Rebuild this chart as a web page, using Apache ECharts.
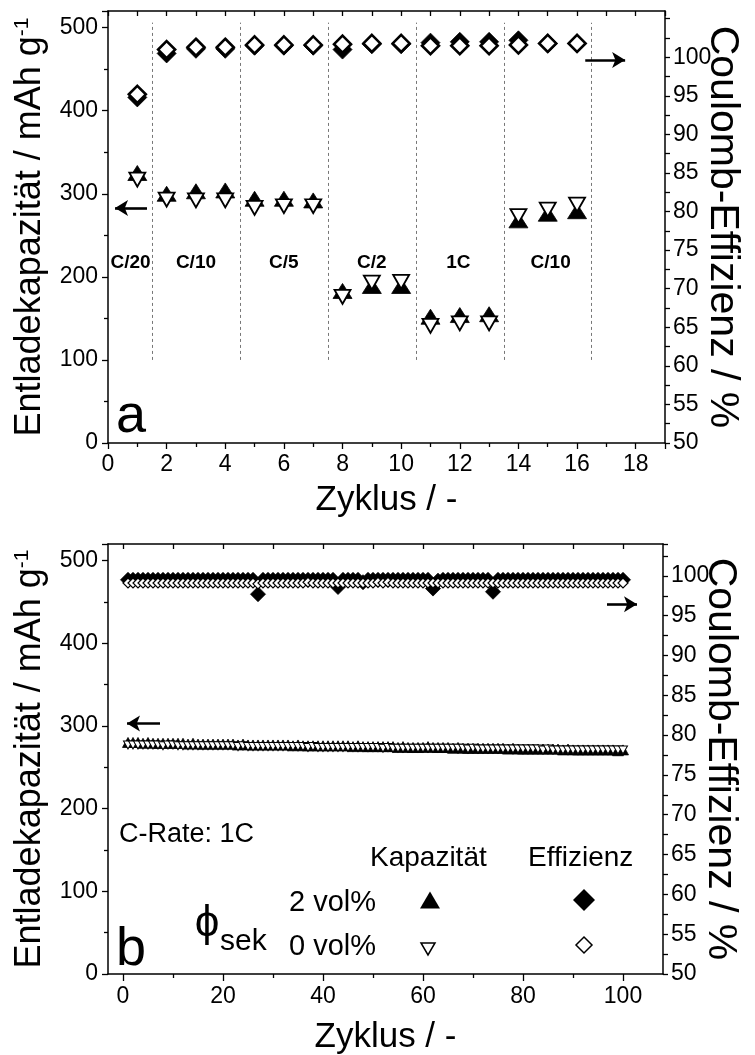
<!DOCTYPE html>
<html>
<head>
<meta charset="utf-8">
<script src="https://cdn.jsdelivr.net/npm/echarts@6/dist/echarts.min.js"></script>
<style>
html,body{margin:0;padding:0;background:#fff}
#chart{width:755px;height:1055px}
</style>
</head>
<body>
<div id="chart"></div>
<script>
// ---- Panel a: rate test (cycles 1-16) ----
const cyclesA = [1, 2, 3, 4, 5, 6, 7, 8, 9, 10, 11, 12, 13, 14, 15, 16];
const capacity2A = [325, 300, 303, 304, 294, 294, 292, 183, 189, 189, 152, 154, 155, 268, 276, 279];
const capacity0A = [317, 293, 292, 292, 283, 285, 285, 176, 193, 194, 141, 144, 144, 273, 281, 287];
const efficiency2A = [94.8, 100.5, 101.1, 101.1, 101.5, 101.5, 101.5, 101.0, 101.7, 101.7, 101.9, 102.0, 102.0, 102.2, 101.8, 101.8];
const efficiency0A = [95.2, 101.0, 101.3, 101.3, 101.6, 101.6, 101.6, 101.7, 101.8, 101.8, 101.5, 101.5, 101.5, 101.6, 101.8, 101.8];
const rateNames = ['C/20', 'C/10', 'C/5', 'C/2', '1C', 'C/10'];
const rateCenters = [0.77, 3.0, 6.0, 9.0, 11.95, 15.1];
const rateBounds = [1.5, 4.5, 7.5, 10.5, 13.5, 16.5];
const effLabelsA = [50, 55, 60, 65, 70, 75, 80, 85, 90, 95, 100];
const effTicksA = [50, 52.5, 55, 57.5, 60, 62.5, 65, 67.5, 70, 72.5, 75, 77.5, 80, 82.5, 85, 87.5,
                   90, 92.5, 95, 97.5, 100, 102.5, 105];

// ---- Panel b: long-term cycling at 1C (cycles 1-100) ----
const cyclesB = Array.from({length: 100}, (_, i) => i + 1);
const capacity2B = [
  280,280,280,279,280,279,279,279,279,279,
  279,279,278,279,278,278,278,278,278,278,
  278,278,277,278,277,277,277,277,277,277,
  277,277,277,276,277,276,276,276,276,276,
  276,276,276,276,276,275,276,275,275,275,
  275,275,275,275,274,275,274,274,274,274,
  275,274,274,274,274,273,274,273,273,273,
  273,273,273,273,273,273,272,273,272,272,
  272,272,272,272,272,272,272,271,272,271,
  271,271,271,271,271,271,271,271,270,271
];
const capacity0B = [
  277,277,277,277,277,277,277,276,277,277,
  276,276,276,276,276,276,276,276,276,276,
  276,276,275,276,275,275,275,275,275,275,
  275,275,275,275,275,275,274,275,274,274,
  274,274,274,274,274,274,274,274,274,274,
  274,273,274,273,273,273,273,273,273,273,
  273,273,273,273,273,273,273,273,272,273,
  272,272,272,272,272,272,272,272,272,272,
  272,272,272,271,272,271,271,271,271,271,
  271,271,271,271,271,271,271,271,271,271
];
const efficiency2B = [
  99.5,99.5,99.5,99.5,99.5,99.5,99.5,99.5,99.5,99.5,
  99.5,99.5,99.5,99.5,99.5,99.5,99.5,99.5,99.5,99.5,
  99.5,99.5,99.5,99.5,99.5,99.5,97.7,99.5,99.5,99.5,
  99.5,99.5,99.5,99.5,99.5,99.5,99.5,99.5,99.5,99.5,
  99.5,99.5,98.6,99.5,99.5,99.5,99.5,99.2,99.5,99.5,
  99.5,99.5,99.5,99.5,99.5,99.5,99.5,99.5,99.5,99.5,
  99.5,98.4,99.4,99.5,99.5,99.5,99.5,99.5,99.5,99.5,
  99.5,99.5,99.5,98.0,99.5,99.5,99.5,99.5,99.5,99.5,
  99.5,99.5,99.5,99.5,99.5,99.5,99.5,99.5,99.5,99.5,
  99.5,99.5,99.5,99.5,99.5,99.5,99.5,99.5,99.5,99.5
];
const efficiency0B = [
  99.1,99.1,99.1,99.1,99.1,99.1,99.1,99.1,99.1,99.1,
  99.1,99.1,99.1,99.1,99.1,99.1,99.1,99.1,99.1,99.1,
  99.1,99.1,99.1,99.1,99.1,99.1,99.0,99.1,99.1,99.1,
  99.1,99.1,99.1,99.1,99.1,99.1,99.2,99.1,99.1,99.1,
  99.1,99.1,99.1,99.1,99.1,99.1,99.1,99.1,99.1,99.1,
  99.2,99.1,99.2,99.1,99.1,99.1,99.1,99.1,99.1,99.1,
  99.1,99.1,99.1,99.1,99.1,99.1,99.1,99.1,99.1,99.1,
  99.1,99.1,99.1,99.1,99.1,99.1,99.1,99.1,99.1,99.1,
  99.1,99.1,99.1,99.1,99.1,99.1,99.1,99.1,99.1,99.1,
  99.1,99.1,99.1,99.1,99.1,99.1,99.1,99.1,99.1,99.1
];

const xTicksB = [0, 20, 40, 60, 80, 100];
const xMinorB = [10, 30, 50, 70, 90];
const xTopB = [0, 10, 20, 30, 40, 50, 60, 70, 80, 90, 100];

const FONT = '"Liberation Sans", Arial, sans-serif';
const BLACK = '#000';
const pairs = (xs, ys) => xs.map((x, i) => [x, ys[i]]);

const axisLine = {show: true, onZero: false, lineStyle: {color: BLACK, width: 1.5}};
const tickStyle = {color: BLACK, width: 1.3};
const labelStyle = {color: BLACK, fontFamily: FONT, fontSize: 23};
const nameStyleX = {color: BLACK, fontFamily: FONT, fontSize: 35};

const leftTitle = {
  name: 'Entladekapazität / mAh g{s|-1}',
  nameLocation: 'middle', nameRotate: 90, nameGap: 60, nameMoveOverlap: false,
  nameTextStyle: {color: BLACK, fontFamily: FONT, fontSize: 36,
    rich: {s: {fontFamily: FONT, fontSize: 21, verticalAlign: 'top', padding: [0, 0, 14, 0]}}}
};
const rightTitle = {
  name: 'Coulomb-Effizienz / %',
  nameLocation: 'middle', nameRotate: -90, nameGap: 37, nameMoveOverlap: false,
  nameTextStyle: {color: BLACK, fontFamily: FONT, fontSize: 41}
};

function leftAxis(gridIndex) {
  return Object.assign({
    type: 'value', gridIndex, position: 'left', min: 0, max: 520, interval: 100,
    axisLine, splitLine: {show: false},
    axisTick: {show: true, inside: false, length: 6, lineStyle: tickStyle},
    minorTick: {show: true, splitNumber: 2, length: 4, lineStyle: tickStyle},
    axisLabel: Object.assign({margin: 10, showMaxLabel: false}, labelStyle)
  }, leftTitle);
}

const chart = echarts.init(document.getElementById('chart'), null, {renderer: 'canvas'});

const scatterBase = {type: 'scatter', emphasis: {disabled: true}};
const triUp = (size) => Object.assign({}, scatterBase, {symbol: 'triangle', symbolSize: size,
  itemStyle: {color: BLACK, borderColor: BLACK, borderWidth: 0.8, opacity: 1}});
const triDownOpen = (size, bw) => Object.assign({}, scatterBase, {symbol: 'triangle', symbolRotate: 180, symbolSize: size,
  itemStyle: {color: '#fff', borderColor: BLACK, borderWidth: bw, opacity: 1}});
const diaFilled = (size) => Object.assign({}, scatterBase, {symbol: 'diamond', symbolSize: size,
  itemStyle: {color: BLACK, borderColor: BLACK, borderWidth: 0.8, opacity: 1}});
const diaOpen = (size, bw) => Object.assign({}, scatterBase, {symbol: 'diamond', symbolSize: size,
  itemStyle: {color: '#fff', borderColor: BLACK, borderWidth: bw, opacity: 1}});

const arrowLine = (from, to) => [{coord: from}, {coord: to}];
const arrowMark = (lines) => ({
  silent: true, symbol: ['none', 'arrow'], symbolSize: [12, 13],
  lineStyle: {color: BLACK, width: 2.6, type: 'solid', opacity: 1},
  itemStyle: {color: BLACK},
  label: {show: false}, emphasis: {disabled: true},
  data: lines
});

const option = {
  animation: false,
  backgroundColor: '#fff',
  textStyle: {fontFamily: FONT},
  grid: [
    {left: 108, top: 11, width: 557, height: 432, outerBoundsMode: 'none', containLabel: false},
    {left: 108, top: 544, width: 555, height: 430, outerBoundsMode: 'none', containLabel: false}
  ],
  xAxis: [
    { // panel a, bottom
      type: 'value', gridIndex: 0, position: 'bottom', min: 0, max: 19, interval: 2,
      axisLine, splitLine: {show: false},
      axisTick: {show: true, inside: false, length: 6, lineStyle: tickStyle},
      minorTick: {show: true, splitNumber: 2, length: 4, lineStyle: tickStyle},
      axisLabel: Object.assign({margin: 10, showMaxLabel: false}, labelStyle),
      name: 'Zyklus / -', nameLocation: 'middle', nameGap: 40, nameMoveOverlap: false,
      nameTextStyle: nameStyleX
    },
    { // panel a, top frame
      type: 'value', gridIndex: 0, position: 'top', min: 0, max: 19, interval: 1,
      axisLine, splitLine: {show: false},
      axisTick: {show: true, inside: true, length: 5, lineStyle: tickStyle},
      axisLabel: {show: false}
    },
    { // panel b, bottom
      type: 'value', gridIndex: 1, position: 'bottom', min: -3, max: 108,
      axisLine, splitLine: {show: false},
      axisTick: {show: true, inside: false, length: 7, customValues: xTicksB, lineStyle: tickStyle},
      axisLabel: Object.assign({margin: 11, customValues: xTicksB}, labelStyle),
      name: 'Zyklus / -', nameLocation: 'middle', nameGap: 46, nameMoveOverlap: false,
      nameTextStyle: nameStyleX
    },
    { // panel b, top frame
      type: 'value', gridIndex: 1, position: 'top', min: -3, max: 108,
      axisLine, splitLine: {show: false},
      axisTick: {show: true, inside: true, length: 5, customValues: xTopB, lineStyle: tickStyle},
      axisLabel: {show: false}
    },
    { // panel b, minor ticks on bottom axis
      type: 'value', gridIndex: 1, position: 'bottom', min: -3, max: 108,
      axisLine: {show: false}, splitLine: {show: false},
      axisTick: {show: true, inside: false, length: 4, customValues: xMinorB, lineStyle: tickStyle},
      axisLabel: {show: false}
    }
  ],
  yAxis: [
    leftAxis(0),
    Object.assign({ // panel a, efficiency
      type: 'value', gridIndex: 0, position: 'right', min: 50, max: 106,
      axisLine, splitLine: {show: false},
      axisTick: {show: true, inside: false, length: 5, customValues: effTicksA, lineStyle: tickStyle},
      axisLabel: Object.assign({margin: 8, customValues: effLabelsA}, labelStyle)
    }, rightTitle),
    leftAxis(1),
    Object.assign({ // panel b, efficiency
      type: 'value', gridIndex: 1, position: 'right', min: 50, max: 104, interval: 5,
      axisLine, splitLine: {show: false},
      axisTick: {show: true, inside: false, length: 5, lineStyle: tickStyle},
      minorTick: {show: true, splitNumber: 2, length: 5, lineStyle: tickStyle},
      axisLabel: Object.assign({margin: 8, showMaxLabel: false}, labelStyle)
    }, rightTitle)
  ],
  series: [
    // panel a: rate-step separators and arrows
    {
      type: 'scatter', xAxisIndex: 0, yAxisIndex: 0, data: [], silent: true,
      markLine: {
        silent: true, symbol: ['none', 'none'],
        lineStyle: {color: '#777', width: 1, type: [3, 3], opacity: 1},
        label: {show: false}, emphasis: {disabled: true},
        data: rateBounds.map(b => [{coord: [b, 100]}, {coord: [b, 506]}])
      }
    },
    {
      type: 'scatter', xAxisIndex: 0, yAxisIndex: 0, data: [], silent: true,
      markLine: arrowMark([arrowLine([1.33, 283], [0.24, 283]), arrowLine([16.28, 461], [17.64, 461])])
    },
    // panel a: rate names
    {
      type: 'scatter', xAxisIndex: 0, yAxisIndex: 0, symbolSize: 0, silent: true,
      itemStyle: {opacity: 1},
      data: rateNames.map((n, i) => ({name: n, value: [rateCenters[i], 217]})),
      label: {show: true, position: 'inside', formatter: '{b}', color: BLACK, opacity: 1,
        fontFamily: FONT, fontSize: 19, fontWeight: 'bold'}
    },
    // panel a: markers
    Object.assign(triUp([19, 15]), {xAxisIndex: 0, yAxisIndex: 0, data: pairs(cyclesA, capacity2A)}),
    Object.assign(triDownOpen([16, 14], 1.8), {xAxisIndex: 0, yAxisIndex: 0, data: pairs(cyclesA, capacity0A)}),
    Object.assign(diaFilled([19, 19]), {xAxisIndex: 0, yAxisIndex: 1, data: pairs(cyclesA, efficiency2A)}),
    Object.assign(diaOpen([17, 17], 2.6), {xAxisIndex: 0, yAxisIndex: 1, data: pairs(cyclesA, efficiency0A)}),

    // panel b: arrows
    {
      type: 'scatter', xAxisIndex: 2, yAxisIndex: 2, data: [], silent: true,
      markLine: arrowMark([arrowLine([7.4, 303], [0.8, 303]), arrowLine([96.8, 447], [102.8, 447])])
    },
    // panel b: markers
    Object.assign(triUp([11, 10]), {xAxisIndex: 2, yAxisIndex: 2, data: pairs(cyclesB, capacity2B)}),
    Object.assign(triDownOpen([9, 8], 1), {xAxisIndex: 2, yAxisIndex: 2, data: pairs(cyclesB, capacity0B)}),
    Object.assign(diaFilled([15, 15]), {xAxisIndex: 2, yAxisIndex: 3, data: pairs(cyclesB, efficiency2B)}),
    Object.assign(diaOpen([10, 10], 1.2), {xAxisIndex: 2, yAxisIndex: 3, data: pairs(cyclesB, efficiency0B)})
  ],
  graphic: [
    // panel letters
    {type: 'text', x: 116, y: 417, style: {text: 'a', font: '54px ' + FONT, fill: BLACK, textVerticalAlign: 'middle'}},
    {type: 'text', x: 116, y: 950, style: {text: 'b', font: '54px ' + FONT, fill: BLACK, textVerticalAlign: 'middle'}},
    // panel b annotations and key
    {type: 'text', x: 119, y: 835, style: {text: 'C-Rate: 1C', font: '27px ' + FONT, fill: BLACK, textVerticalAlign: 'middle'}},
    {type: 'text', x: 370, y: 858, style: {text: 'Kapazität', font: '28px ' + FONT, fill: BLACK, textVerticalAlign: 'middle'}},
    {type: 'text', x: 528, y: 858, style: {text: 'Effizienz', font: '28px ' + FONT, fill: BLACK, textVerticalAlign: 'middle'}},
    {type: 'text', x: 289, y: 903, style: {text: '2 vol%', font: '29px ' + FONT, fill: BLACK, textVerticalAlign: 'middle'}},
    {type: 'text', x: 289, y: 947, style: {text: '0 vol%', font: '29px ' + FONT, fill: BLACK, textVerticalAlign: 'middle'}},
    {type: 'text', x: 207, y: 924, style: {text: 'ϕ', font: '44px ' + FONT, fill: BLACK, textAlign: 'center', textVerticalAlign: 'middle'}},
    {type: 'text', x: 220, y: 942, style: {text: 'sek', font: '30px ' + FONT, fill: BLACK, textVerticalAlign: 'middle'}},
    {type: 'polygon', shape: {points: [[420, 908.5], [440, 908.5], [430, 891.5]]}, style: {fill: BLACK}},
    {type: 'polygon', shape: {points: [[584, 889], [595, 900], [584, 911], [573, 900]]}, style: {fill: BLACK}},
    {type: 'polygon', shape: {points: [[421, 943], [435, 943], [428, 955]]}, style: {fill: '#fff', stroke: BLACK, lineWidth: 1.5}},
    {type: 'polygon', shape: {points: [[584, 937], [592, 945], [584, 953], [576, 945]]}, style: {fill: '#fff', stroke: BLACK, lineWidth: 1.5}}
  ]
};

chart.setOption(option);
</script>
</body>
</html>
